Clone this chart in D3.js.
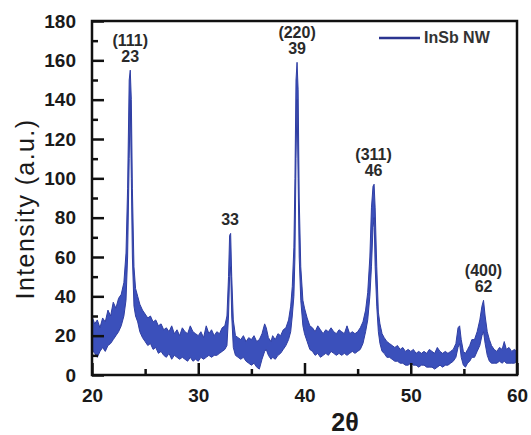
<!DOCTYPE html>
<html>
<head>
<meta charset="utf-8">
<script src="https://cdn.jsdelivr.net/npm/d3@7"></script>
<style>
  body { margin: 0; background: #fff; }
  svg { display: block; font-family: "Liberation Sans", Arial, sans-serif; }
</style>
</head>
<body>
<div id="chart"></div>
<script>
const twoTheta = [
  20.0, 20.25, 20.5, 20.75, 21.0, 21.25, 21.5, 21.75, 22.0, 22.25, 22.5, 22.75,
  23.0, 23.2, 23.35, 23.5, 23.6, 23.7, 23.8, 23.95, 24.1, 24.3, 24.5, 24.75,
  25.0, 25.25, 25.5, 25.75, 26.0, 26.25, 26.5, 26.75, 27.0, 27.25, 27.5, 27.75,
  28.0, 28.25, 28.5, 28.75, 29.0, 29.25, 29.5, 29.75, 30.0, 30.25, 30.5, 30.75,
  31.0, 31.25, 31.5, 31.75, 32.0, 32.25, 32.5, 32.7, 32.85, 32.95, 33.05, 33.15,
  33.3, 33.5, 33.75, 34.0, 34.25, 34.5, 34.75, 35.0, 35.25, 35.5, 35.75, 36.0,
  36.25, 36.4, 36.6, 36.85, 37.0, 37.25, 37.5, 37.75, 38.0, 38.25, 38.5, 38.7,
  38.85, 39.0, 39.1, 39.2, 39.3, 39.4, 39.5, 39.65, 39.85, 40.0, 40.25, 40.5,
  40.75, 41.0, 41.25, 41.5, 41.75, 42.0, 42.25, 42.5, 42.75, 43.0, 43.25, 43.5,
  43.75, 44.0, 44.25, 44.5, 44.75, 45.0, 45.25, 45.5, 45.75, 45.95, 46.15, 46.3,
  46.45, 46.55, 46.65, 46.8, 46.95, 47.1, 47.3, 47.5, 47.75, 48.0, 48.25, 48.5,
  48.75, 49.0, 49.25, 49.5, 49.75, 50.0, 50.25, 50.5, 50.75, 51.0, 51.25, 51.5,
  51.75, 52.0, 52.25, 52.5, 52.75, 53.0, 53.25, 53.5, 53.75, 54.0, 54.25, 54.45,
  54.6, 54.75, 54.95, 55.15, 55.35, 55.55, 55.75, 56.0, 56.25, 56.5, 56.7, 56.85,
  57.0, 57.2, 57.4, 57.6, 57.85, 58.1, 58.35, 58.6, 58.8, 59.0, 59.25, 59.5,
  59.75, 60.0
];
const upperIntensity = [
  30, 26, 28, 24, 29, 27, 33, 30, 37, 34, 39, 41,
  47, 62, 95, 150, 155, 140, 95, 55, 44, 40, 36, 33,
  31, 29, 30, 27, 28, 25, 26, 23, 24, 22, 25, 21,
  23, 20, 24, 22, 21, 25, 22, 21, 20, 22, 19, 25,
  21, 23, 20, 22, 21, 24, 25, 30, 50, 71, 72, 50,
  28, 20, 19, 18, 20, 17, 19, 18, 20, 17, 18, 21,
  26, 24, 19, 17, 20, 18, 21, 20, 23, 24, 28, 35,
  45, 65, 100, 150, 159, 145, 90, 55, 38, 34, 29, 25,
  24, 22, 25, 23, 21, 23, 22, 24, 22, 21, 23, 22,
  21, 25, 21, 22, 21, 22, 24, 27, 33, 42, 60, 85,
  96, 97, 85, 55, 32, 26, 21, 19, 17, 16, 15, 14,
  15, 13, 14, 12, 13, 12, 13, 11, 12, 11, 12, 11,
  13, 12, 11, 14, 12, 11, 12, 11, 12, 13, 16, 24,
  25, 18, 12, 11, 13, 15, 18, 18, 22, 28, 35, 38,
  30, 22, 18, 15, 13, 12, 14, 13, 17, 13, 14, 12,
  13, 12
];
const lowerIntensity = [
  13, 11, 9, 12, 14, 12, 15, 16, 18, 20, 22, 25,
  30, 38, 60, 110, 140, 100, 60, 35, 30, 27, 22, 19,
  17, 15, 16, 13, 14, 11, 12, 10, 9, 11, 8, 10,
  9, 8, 9, 8, 7, 9, 7, 8, 7, 9, 8, 9,
  10, 9, 10, 10, 11, 12, 13, 15, 30, 50, 55, 30,
  14, 10, 9, 8, 9, 7, 6, 5, 6, 4, 3, 8,
  12, 13, 10, 8, 9, 8, 10, 11, 13, 15, 18, 22,
  30, 40, 60, 110, 140, 100, 60, 38, 25, 21, 17, 13,
  12, 10, 11, 9, 10, 11, 10, 12, 11, 10, 11, 10,
  11, 10, 11, 12, 11, 12, 13, 16, 22, 28, 40, 55,
  75, 80, 55, 35, 22, 16, 12, 11, 9, 9, 8, 7,
  7, 6, 6, 5, 5, 6, 5, 5, 4, 5, 5, 4,
  4, 4, 3, 4, 5, 4, 5, 5, 6, 7, 9, 14,
  16, 9, 5, 4, 6, 7, 9, 9, 12, 15, 20, 22,
  16, 10, 7, 6, 6, 6, 7, 6, 7, 6, 6, 6,
  6, 7
];

// peak annotations: (hkl) and the number printed under it
const peakPositions = [23.6, 33.0, 39.3, 46.5, 56.85];
const peakHeights = [155, 72, 159, 97, 38];
const peakHkl = ["(111)", "", "(220)", "(311)", "(400)"];
const peakNumbers = ["23", "33", "39", "46", "62"];

const xTicks = [20, 30, 40, 50, 60];
const xMinorTicks = [25, 35, 45, 55];
const yTicks = [0, 20, 40, 60, 80, 100, 120, 140, 160, 180];
const yMinorTicks = [10, 30, 50, 70, 90, 110, 130, 150, 170];
const seriesName = "InSb NW";

const width = 531, height = 435;
const margin = { top: 21, right: 14, bottom: 60, left: 92 };

const svg = d3.select("#chart").append("svg")
  .attr("width", width)
  .attr("height", height);

const x = d3.scaleLinear().domain([20, 60]).range([margin.left, width - margin.right]);
const y = d3.scaleLinear().domain([0, 180]).range([height - margin.bottom, margin.top]);

const points = twoTheta.map((t, i) => ({ t, hi: upperIntensity[i], lo: lowerIntensity[i] }));

// the noisy band
const band = d3.area()
  .x(d => x(d.t))
  .y0(d => y(d.lo))
  .y1(d => y(d.hi));

svg.append("path")
  .datum(points)
  .attr("d", band)
  .attr("fill", "#3b50bb")
  .attr("stroke", "#2f3ea3")
  .attr("stroke-width", 1)
  .attr("stroke-linejoin", "round");

// ticks pointing inward
const plotH = height - margin.bottom;

const yAxis = svg.append("g")
  .attr("transform", `translate(${margin.left},0)`)
  .call(d3.axisLeft(y).tickValues(yTicks).tickSize(-12).tickPadding(16));
svg.append("g")
  .attr("transform", `translate(${margin.left},0)`)
  .call(d3.axisLeft(y).tickValues(yMinorTicks).tickSize(-6).tickFormat(""));

const xAxis = svg.append("g")
  .attr("transform", `translate(0,${plotH})`)
  .call(d3.axisBottom(x).tickValues(xTicks).tickSize(-12).tickPadding(16));
svg.append("g")
  .attr("transform", `translate(0,${plotH})`)
  .call(d3.axisBottom(x).tickValues(xMinorTicks).tickSize(-6).tickFormat(""));

svg.selectAll(".domain").remove();
svg.selectAll(".tick line").attr("stroke", "#111").attr("stroke-width", 2.5);
svg.selectAll(".tick text")
  .style("font-size", "19px")
  .style("font-weight", "bold")
  .attr("fill", "#1a1a1a");
xAxis.selectAll(".tick text").attr("dy", "0.6em");

// frame
svg.append("rect")
  .attr("x", margin.left)
  .attr("y", margin.top)
  .attr("width", width - margin.left - margin.right)
  .attr("height", height - margin.top - margin.bottom)
  .attr("fill", "none")
  .attr("stroke", "#111")
  .attr("stroke-width", 2.5);

// axis titles
svg.append("text")
  .attr("transform", `translate(34,209) rotate(-90)`)
  .attr("text-anchor", "middle")
  .style("font-size", "25px")
  .style("letter-spacing", "1.4px")
  .attr("fill", "#1a1a1a")
  .text("Intensity (a.u.)");

svg.append("text")
  .attr("x", 345)
  .attr("y", 431)
  .attr("text-anchor", "middle")
  .style("font-size", "25px")
  .style("font-weight", "bold")
  .attr("fill", "#1a1a1a")
  .text("2θ");

// peak labels
const labels = svg.append("g")
  .style("font-size", "16px")
  .style("font-weight", "bold")
  .attr("fill", "#2a2a2a")
  .attr("text-anchor", "middle");

peakPositions.forEach((p, i) => {
  const top = y(peakHeights[i]);
  labels.append("text")
    .attr("x", x(p))
    .attr("y", top - 8)
    .text(peakNumbers[i]);
  if (peakHkl[i]) {
    labels.append("text")
      .attr("x", x(p))
      .attr("y", top - 24)
      .text(peakHkl[i]);
  }
});

// legend
const legend = svg.append("g").attr("transform", "translate(379,38)");
legend.append("line")
  .attr("x1", 0).attr("x2", 41)
  .attr("stroke", "#2b3490")
  .attr("stroke-width", 2.5);
legend.append("text")
  .attr("x", 45)
  .attr("y", 5)
  .style("font-size", "16px")
  .style("font-weight", "bold")
  .attr("fill", "#333")
  .text(seriesName);
</script>
</body>
</html>
